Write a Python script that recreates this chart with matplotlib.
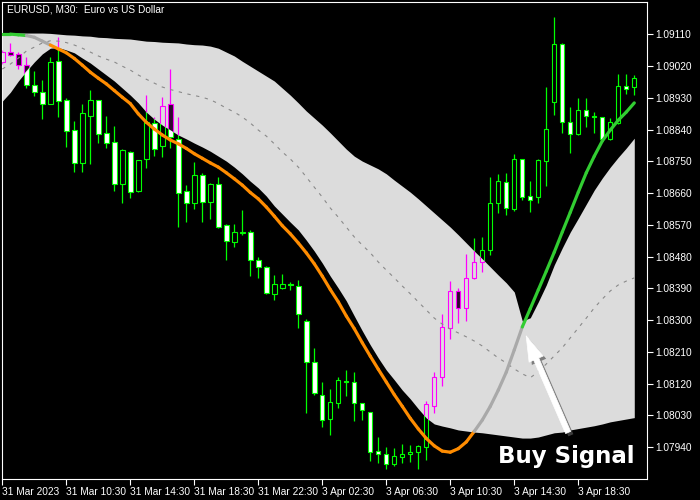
import numpy as np
import matplotlib
matplotlib.use("Agg")
import matplotlib.pyplot as plt
from matplotlib.collections import LineCollection
from matplotlib import patheffects

plt.rcParams["font.family"] = ["Liberation Sans", "DejaVu Sans"]

# EURUSD M30, 80 bars (31 Mar 06:30 -> 3 Apr 22:00)
opens = [1.09031, 1.09060, 1.09054, 1.09023, 1.08968, 1.08948, 1.08914, 1.09034, 1.08924, 1.08839,
         1.08746, 1.08879, 1.08923, 1.08832, 1.08804, 1.08685, 1.08777, 1.08667, 1.08756, 1.08858,
         1.08794, 1.08912, 1.08815, 1.08665, 1.08631, 1.08711, 1.08636, 1.08686, 1.08570, 1.08522,
         1.08548, 1.08549, 1.08471, 1.08450, 1.08375, 1.08390, 1.08402, 1.08398, 1.08298, 1.08182,
         1.08088, 1.08019, 1.08065, 1.08129, 1.08124, 1.08065, 1.08039, 1.07929, 1.07920, 1.07892,
         1.07913, 1.07920, 1.07926, 1.07942, 1.08058, 1.08140, 1.08277, 1.08383, 1.08335, 1.08419,
         1.08464, 1.08499, 1.08633, 1.08692, 1.08614, 1.08756, 1.08653, 1.08648, 1.08752, 1.08919,
         1.09084, 1.08862, 1.08827, 1.08896, 1.08878, 1.08876, 1.08815, 1.08858, 1.08965, 1.08960]
highs = [1.09065, 1.09086, 1.09060, 1.09046, 1.09006, 1.08980, 1.09045, 1.09103, 1.08929, 1.08864,
         1.08912, 1.08952, 1.08924, 1.08878, 1.08850, 1.08785, 1.08779, 1.08754, 1.08938, 1.08875,
         1.08933, 1.09012, 1.08875, 1.08683, 1.08749, 1.08716, 1.08688, 1.08705, 1.08572, 1.08572,
         1.08612, 1.08557, 1.08478, 1.08453, 1.08428, 1.08431, 1.08409, 1.08414, 1.08303, 1.08220,
         1.08124, 1.08105, 1.08140, 1.08159, 1.08152, 1.08066, 1.08040, 1.07970, 1.07942, 1.07937,
         1.07949, 1.07946, 1.07946, 1.08071, 1.08154, 1.08319, 1.08411, 1.08390, 1.08489, 1.08532,
         1.08535, 1.08705, 1.08714, 1.08716, 1.08771, 1.08757, 1.08694, 1.08756, 1.08960, 1.09160,
         1.09087, 1.08905, 1.08931, 1.08929, 1.08891, 1.08877, 1.08872, 1.08997, 1.08999, 1.08995]
lows = [1.09026, 1.09048, 1.09012, 1.08959, 1.08936, 1.08869, 1.08912, 1.08876, 1.08791, 1.08721,
        1.08721, 1.08744, 1.08801, 1.08787, 1.08666, 1.08631, 1.08647, 1.08663, 1.08732, 1.08765,
        1.08763, 1.08787, 1.08565, 1.08579, 1.08615, 1.08579, 1.08587, 1.08562, 1.08471, 1.08508,
        1.08541, 1.08426, 1.08421, 1.08374, 1.08357, 1.08389, 1.08386, 1.08279, 1.08038, 1.08088,
        1.07998, 1.07975, 1.08052, 1.08086, 1.08014, 1.08017, 1.07902, 1.07896, 1.07877, 1.07887,
        1.07896, 1.07899, 1.07878, 1.07904, 1.08036, 1.08114, 1.08246, 1.08291, 1.08299, 1.08416,
        1.08436, 1.08485, 1.08604, 1.08598, 1.08610, 1.08642, 1.08607, 1.08633, 1.08681, 1.08881,
        1.08831, 1.08774, 1.08825, 1.08848, 1.08831, 1.08814, 1.08810, 1.08857, 1.08941, 1.08938]
closes = [1.09060, 1.09052, 1.09024, 1.08968, 1.08946, 1.08914, 1.09031, 1.08922, 1.08837, 1.08746,
          1.08886, 1.08924, 1.08829, 1.08801, 1.08685, 1.08782, 1.08664, 1.08753, 1.08862, 1.08784,
          1.08907, 1.08818, 1.08662, 1.08631, 1.08711, 1.08634, 1.08686, 1.08565, 1.08525, 1.08549,
          1.08549, 1.08471, 1.08450, 1.08376, 1.08404, 1.08404, 1.08401, 1.08319, 1.08182, 1.08093,
          1.08017, 1.08067, 1.08131, 1.08124, 1.08065, 1.08046, 1.07927, 1.07920, 1.07892, 1.07915,
          1.07920, 1.07927, 1.07943, 1.08062, 1.08138, 1.08280, 1.08383, 1.08334, 1.08419, 1.08464,
          1.08499, 1.08633, 1.08695, 1.08617, 1.08756, 1.08650, 1.08642, 1.08754, 1.08841, 1.09082,
          1.08862, 1.08827, 1.08896, 1.08878, 1.08877, 1.08815, 1.08861, 1.08965, 1.08956, 1.08988]

# indicator buffers
band_upper = [1.09114, 1.09114, 1.09114, 1.09114, 1.09114, 1.09114, 1.09113, 1.09111, 1.09109, 1.09108,
              1.09106, 1.09105, 1.09102, 1.09101, 1.09099, 1.09098, 1.09097, 1.09094, 1.09091, 1.09090,
              1.09088, 1.09087, 1.09086, 1.09083, 1.09081, 1.09080, 1.09077, 1.09071, 1.09060, 1.09049,
              1.09034, 1.09020, 1.09006, 1.08992, 1.08978, 1.08958, 1.08938, 1.08916, 1.08893, 1.08873,
              1.08853, 1.08831, 1.08808, 1.08785, 1.08765, 1.08751, 1.08740, 1.08729, 1.08715, 1.08697,
              1.08680, 1.08663, 1.08644, 1.08624, 1.08604, 1.08584, 1.08564, 1.08542, 1.08519, 1.08496,
              1.08474, 1.08451, 1.08428, 1.08406, 1.08380, 1.08298, 1.08307, 1.08352, 1.08400, 1.08457,
              1.08505, 1.08550, 1.08589, 1.08629, 1.08669, 1.08703, 1.08734, 1.08762, 1.08788, 1.08816]
band_lower = [1.08921, 1.08946, 1.08978, 1.09006, 1.09032, 1.09055, 1.09071, 1.09073, 1.09066, 1.09058,
              1.09043, 1.09029, 1.09012, 1.08995, 1.08978, 1.08958, 1.08938, 1.08916, 1.08890, 1.08870,
              1.08853, 1.08839, 1.08825, 1.08814, 1.08802, 1.08791, 1.08779, 1.08765, 1.08751, 1.08734,
              1.08715, 1.08694, 1.08675, 1.08652, 1.08624, 1.08601, 1.08578, 1.08556, 1.08527, 1.08496,
              1.08462, 1.08425, 1.08391, 1.08355, 1.08312, 1.08270, 1.08230, 1.08193, 1.08159, 1.08131,
              1.08102, 1.08077, 1.08049, 1.08023, 1.08006, 1.08000, 1.07995, 1.07989, 1.07986, 1.07983,
              1.07981, 1.07978, 1.07975, 1.07972, 1.07969, 1.07966, 1.07966, 1.07969, 1.07975, 1.07981,
              1.07983, 1.07989, 1.07993, 1.07997, 1.08001, 1.08006, 1.08012, 1.08016, 1.08020, 1.08024]
band_mid = [1.09012, 1.09026, 1.09043, 1.09063, 1.09074, 1.09086, 1.09092, 1.09091, 1.09087, 1.09080,
            1.09071, 1.09060, 1.09049, 1.09040, 1.09032, 1.09020, 1.09009, 1.08995, 1.08983, 1.08972,
            1.08961, 1.08954, 1.08948, 1.08942, 1.08937, 1.08932, 1.08925, 1.08914, 1.08901, 1.08890,
            1.08876, 1.08859, 1.08839, 1.08822, 1.08800, 1.08777, 1.08757, 1.08734, 1.08706, 1.08677,
            1.08649, 1.08618, 1.08592, 1.08564, 1.08536, 1.08513, 1.08491, 1.08465, 1.08442, 1.08420,
            1.08397, 1.08375, 1.08352, 1.08329, 1.08306, 1.08289, 1.08275, 1.08264, 1.08253, 1.08241,
            1.08227, 1.08210, 1.08193, 1.08179, 1.08162, 1.08148, 1.08137, 1.08154, 1.08176, 1.08199,
            1.08222, 1.08250, 1.08278, 1.08306, 1.08335, 1.08360, 1.08383, 1.08400, 1.08411, 1.08420]
trend_line = [1.09111, 1.09111, 1.09109, 1.09107, 1.09102, 1.09091, 1.09080, 1.09069, 1.09058, 1.09042,
              1.09023, 1.09003, 1.08986, 1.08970, 1.08951, 1.08932, 1.08914, 1.08885, 1.08861, 1.08842,
              1.08825, 1.08811, 1.08800, 1.08787, 1.08772, 1.08759, 1.08746, 1.08734, 1.08718, 1.08701,
              1.08683, 1.08662, 1.08644, 1.08621, 1.08595, 1.08568, 1.08545, 1.08519, 1.08491, 1.08460,
              1.08425, 1.08387, 1.08352, 1.08312, 1.08276, 1.08236, 1.08198, 1.08161, 1.08125, 1.08089,
              1.08056, 1.08022, 1.07992, 1.07965, 1.07944, 1.07929, 1.07926, 1.07936, 1.07955, 1.07985,
              1.08017, 1.08056, 1.08102, 1.08153, 1.08216, 1.08281, 1.08333, 1.08386, 1.08439, 1.08493,
              1.08550, 1.08606, 1.08663, 1.08718, 1.08765, 1.08808, 1.08839, 1.08867, 1.08890, 1.08916]
# line colour state per bar: U = up, F = flat, D = down
trend_state = ("UUUFFFDDDD"
               "DDDDDDDDDD"
               "DDDDDDDDDD"
               "DDDDDDDDDD"
               "DDDDDDDDDD"
               "DDDDDDDDDF"
               "FFFFFUUUUU"
               "UUUUUUUUUU")
signal_bar = 65

price_ticks = [1.09110, 1.09020, 1.08930, 1.08840, 1.08750, 1.08660, 1.08570,
               1.08480, 1.08390, 1.08300, 1.08210, 1.08120, 1.08030, 1.07940]
time_ticks = [0, 8, 16, 24, 32, 40, 48, 56, 64, 72]
time_labels = ["31 Mar 2023", "31 Mar 10:30", "31 Mar 14:30", "31 Mar 18:30", "31 Mar 22:30",
               "3 Apr 02:30", "3 Apr 06:30", "3 Apr 10:30", "3 Apr 14:30", "3 Apr 18:30"]

state_colors = {"U": "#32cd32", "F": "#a9a9a9", "D": "#ff8c00"}

fig = plt.figure(figsize=(7, 5), dpi=100, facecolor="black")
ax = fig.add_axes([2 / 700, 21 / 500, 645 / 700, 477 / 500])
ax.set_facecolor("black")
x = np.arange(len(opens))


def draw_candles(wick_color, bull_face, bear_face, z, clip=None):
    o, h, l, c = (np.asarray(v) for v in (opens, highs, lows, closes))
    top = np.maximum(o, c)
    bot = np.minimum(o, c)
    arts = [ax.vlines(x, top, h, color=wick_color, lw=0.9, zorder=z),
            ax.vlines(x, l, bot, color=wick_color, lw=0.9, zorder=z)]
    faces = [bull_face if cc >= oo else bear_face for oo, cc in zip(o, c)]
    bars = ax.bar(x, top - bot, bottom=bot, width=0.55, color=faces,
                  edgecolor=wick_color, linewidth=0.8, zorder=z)
    arts += list(bars.patches)
    if clip is not None:
        for a in arts:
            a.set_clip_path(clip, ax.transData)


# normal candles, then the band over them
draw_candles("#00ff00", "black", "white", 2)
band = ax.fill_between(x, band_lower, band_upper, color="#dcdcdc", lw=0, zorder=3)
# candles inside the band are coloured magenta
draw_candles("#ff00ff", "none", "#2c0a2c", 4, clip=band.get_paths()[0])

ax.plot(x, band_mid, color="#8a8a8a", lw=0.8, ls=(0, (3, 5)), zorder=5)

# trend line, coloured by state
pts = np.column_stack([x, trend_line])
segs = [pts[i:i + 2] for i in range(len(x) - 1)]
cols = [state_colors[s] for s in trend_state[:-1]]
ax.add_collection(LineCollection(segs, colors=cols, linewidths=2.3,
                                 capstyle="round", zorder=6))

# buy signal arrow
ax.annotate("", xy=(signal_bar, trend_line[signal_bar]), xytext=(33, -76),
            textcoords="offset points",
            arrowprops=dict(arrowstyle="simple,head_length=1.3,head_width=0.8,tail_width=0.28",
                            mutation_scale=14, fc="white", ec="white", lw=0.5,
                            shrinkA=0, shrinkB=7,
                            path_effects=[patheffects.withSimplePatchShadow(
                                offset=(2, -2), shadow_rgbFace="#555555", alpha=0.7)]),
            zorder=7)
fig.text(498 / 700, 1 - 463 / 500, "Buy Signal", color="white", fontsize=16.5,
         fontweight="bold", family=["DejaVu Sans"], ha="left", va="baseline")

fig.text(7 / 700, 1 - 9.5 / 500, "EURUSD, M30:  Euro vs US Dollar", color="white",
         fontsize=7.3, ha="left", va="center")

ax.set_xlim(-0.04, 80.59)
ax.set_ylim(1.07850, 1.09202)
ax.yaxis.tick_right()
ax.set_yticks(price_ticks)
ax.set_yticklabels([f"{p:.5f}" for p in price_ticks])
ax.set_xticks(time_ticks)
ax.set_xticklabels(time_labels)
for lab in ax.get_xticklabels():
    lab.set_horizontalalignment("left")
ax.tick_params(colors="white", labelcolor="white", direction="out", length=4,
               width=0.8, labelsize=7.3, pad=2)
for sp in ax.spines.values():
    sp.set_color("white")
    sp.set_linewidth(0.8)

fig.savefig("out.png", dpi=100, facecolor="black")
